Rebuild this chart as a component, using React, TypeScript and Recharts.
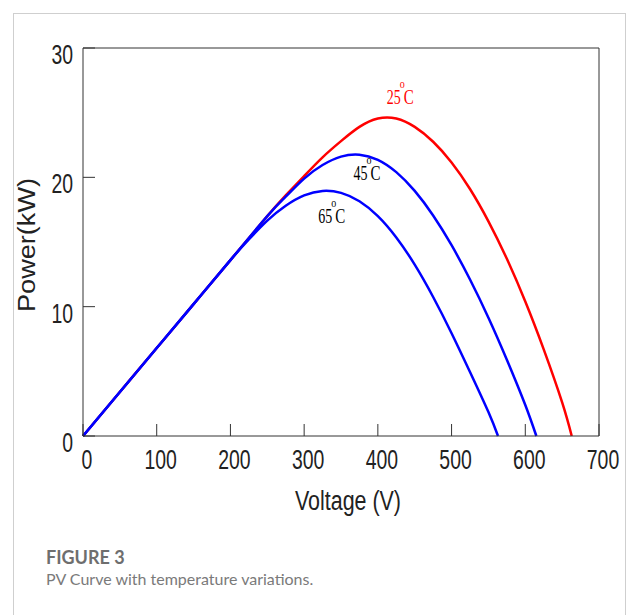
import React from 'react'
import { LineChart, Line, XAxis, YAxis, ReferenceDot } from 'recharts'

// P-V curves, voltage (V) vs power (kW)
const volts25 = [0, 50, 100, 150, 200, 250, 275, 300, 325, 350, 375, 400, 425, 450, 475, 500, 525, 550, 575, 600, 625, 650, 663]
const power25 = [0, 3.4, 6.8, 10.2, 13.6, 17.0, 18.6, 20.1, 21.55, 22.8, 23.9, 24.55, 24.55, 23.9, 22.75, 21.15, 19.1, 16.6, 13.7, 10.4, 6.7, 2.6, 0]

const volts45 = [0, 50, 100, 150, 200, 250, 275, 300, 325, 350, 375, 400, 425, 450, 475, 500, 525, 550, 575, 600, 615]
const power45 = [0, 3.4, 6.8, 10.2, 13.6, 17.0, 18.5, 19.9, 20.95, 21.6, 21.75, 21.35, 20.4, 18.95, 17.05, 14.75, 12.1, 9.15, 5.9, 2.4, 0]

const volts65 = [0, 50, 100, 150, 200, 225, 250, 275, 300, 325, 350, 375, 400, 425, 450, 475, 500, 525, 550, 563]
const power65 = [0, 3.4, 6.8, 10.2, 13.6, 15.2, 16.65, 17.8, 18.6, 18.95, 18.8, 18.15, 17.0, 15.35, 13.25, 10.75, 7.95, 4.95, 1.85, 0]

const xTicks = [0, 100, 200, 300, 400, 500, 600, 700]
const yTicks = [0, 10, 20, 30]

// label anchors (voltage, power) for the temperature tags
const tags = [
  { t: '25', v: 412, p: 25.7, color: '#ff0000' },
  { t: '45', v: 367, p: 19.8, color: '#000000' },
  { t: '65', v: 319, p: 16.5, color: '#000000' },
]

const toRows = (vs: number[], ps: number[]) => vs.map((v, i) => ({ v, p: ps[i] }))

const AXIS = '#333333'
const TICK_LEN = 12
const NUM_FONT = '"Liberation Sans Narrow", "Liberation Sans", Arial, sans-serif'

function BottomTick(props: any) {
  const { x, y, payload } = props
  const s = String(payload.value)
  return (
    <g>
      <line x1={x} y1={y} x2={x} y2={y - TICK_LEN} stroke={AXIS} strokeWidth={1} />
      <text x={x + 4} y={y + 33} textAnchor="middle" fontFamily={NUM_FONT} fontSize={27} fill="#222"
        textLength={s.length * 10.8} lengthAdjust="spacingAndGlyphs">{s}</text>
    </g>
  )
}

function TopTick(props: any) {
  const { x, y } = props
  return <line x1={x} y1={y} x2={x} y2={y + TICK_LEN} stroke={AXIS} strokeWidth={1} />
}

function LeftTick(props: any) {
  const { x, y, payload } = props
  const s = String(payload.value)
  return (
    <g>
      <line x1={x} y1={y} x2={x + TICK_LEN} y2={y} stroke={AXIS} strokeWidth={1} />
      <text x={x - 10} y={y + 16} textAnchor="end" fontFamily={NUM_FONT} fontSize={27} fill="#222"
        textLength={s.length * 10.8} lengthAdjust="spacingAndGlyphs">{s}</text>
    </g>
  )
}

function RightTick(props: any) {
  const { x, y } = props
  return <line x1={x} y1={y} x2={x - TICK_LEN} y2={y} stroke={AXIS} strokeWidth={1} />
}

function TempTag(props: any) {
  const { cx, cy, t, color } = props
  const serif = '"Liberation Serif", "Times New Roman", serif'
  return (
    <g>
      <text x={cx} y={cy} fontFamily={serif} fontSize={20} fill={color} textLength={14} lengthAdjust="spacingAndGlyphs">{t}</text>
      <text x={cx + 13} y={cy - 16} fontFamily={serif} fontSize={12} fill={color} textLength={5} lengthAdjust="spacingAndGlyphs">o</text>
      <text x={cx + 17} y={cy} fontFamily={serif} fontSize={20} fill={color} textLength={10} lengthAdjust="spacingAndGlyphs">C</text>
    </g>
  )
}

export default function App() {
  return (
    <div style={{ position: 'absolute', left: 0, top: 0, width: 627, height: 615, background: '#fff', overflow: 'hidden' }}>
      <div style={{ position: 'absolute', left: 13, top: 13, width: 611, height: 640, border: '1px solid #cfcfcf', borderBottom: 'none' }} />
      <div style={{ position: 'absolute', left: 0, top: 0 }}>
        <LineChart width={627} height={520} margin={{ top: 0, right: 0, bottom: 0, left: 0 }}>
          <XAxis xAxisId="b" type="number" dataKey="v" domain={[0, 700]} ticks={xTicks} orientation="bottom" height={84}
            axisLine={{ stroke: AXIS }} tickLine={false} tickSize={0} tickMargin={0} tick={<BottomTick />} />
          <XAxis xAxisId="t" type="number" dataKey="v" domain={[0, 700]} ticks={xTicks} orientation="top" height={48}
            axisLine={{ stroke: AXIS }} tickLine={false} tickSize={0} tickMargin={0} tick={<TopTick />} />
          <YAxis yAxisId="l" type="number" domain={[0, 30]} ticks={yTicks} orientation="left" width={83}
            axisLine={{ stroke: AXIS }} tickLine={false} tickSize={0} tickMargin={0} tick={<LeftTick />} />
          <YAxis yAxisId="r" type="number" domain={[0, 30]} ticks={yTicks} orientation="right" width={28}
            axisLine={{ stroke: AXIS }} tickLine={false} tickSize={0} tickMargin={0} tick={<RightTick />} />
          <Line xAxisId="b" yAxisId="l" data={toRows(volts25, power25)} dataKey="p" type="natural" stroke="#ff0000" strokeWidth={2.5} dot={false} isAnimationActive={false} />
          <Line xAxisId="b" yAxisId="l" data={toRows(volts45, power45)} dataKey="p" type="natural" stroke="#0000ff" strokeWidth={2.5} dot={false} isAnimationActive={false} />
          <Line xAxisId="b" yAxisId="l" data={toRows(volts65, power65)} dataKey="p" type="natural" stroke="#0000ff" strokeWidth={2.5} dot={false} isAnimationActive={false} />
          {tags.map((g) => (
            <ReferenceDot key={g.t} xAxisId="b" yAxisId="l" x={g.v} y={g.p} r={1}
              shape={(p: any) => <TempTag cx={p.cx} cy={p.cy} t={g.t} color={g.color} />} />
          ))}
          <text x={348} y={510} textAnchor="middle" fontFamily={NUM_FONT} fontSize={27} fill="#222"
            textLength={106} lengthAdjust="spacingAndGlyphs">Voltage (V)</text>
          <text x={35} y={245} transform="rotate(-90 35 245)" textAnchor="middle" fontFamily='"Liberation Sans", Arial, sans-serif' fontSize={23} fill="#222"
            textLength={134} lengthAdjust="spacingAndGlyphs">Power(kW)</text>
        </LineChart>
      </div>
      <div style={{ position: 'absolute', left: 46, top: 547, fontFamily: 'Lato, sans-serif', fontWeight: 700, fontSize: 18, color: '#6e6e6e', whiteSpace: 'nowrap', lineHeight: '21.6px' }}>
        FIGURE 3
      </div>
      <div style={{ position: 'absolute', left: 46, top: 569, fontFamily: 'Lato, sans-serif', fontSize: 16, color: '#7a7a7a', whiteSpace: 'nowrap', lineHeight: '19.2px' }}>
        PV Curve with temperature variations.
      </div>
    </div>
  )
}
